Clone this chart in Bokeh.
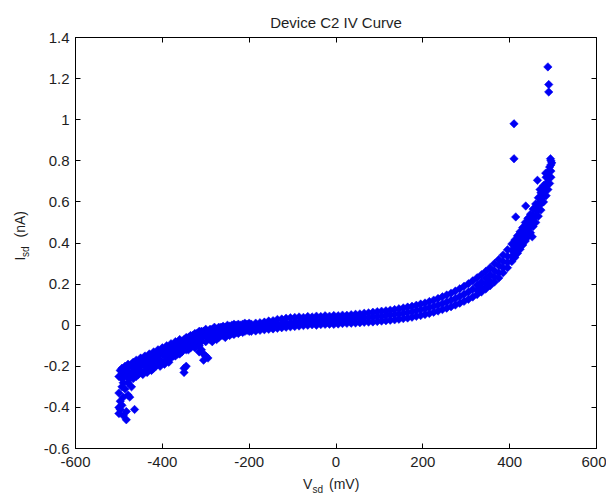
import math
from bokeh.plotting import figure
from bokeh.layouts import column, row
from bokeh.models import FixedTicker, CustomJSTickFormatter, LinearAxis, Range1d, ColumnDataSource
from bokeh.core.properties import value
from bokeh.embed import file_html
from bokeh.resources import INLINE

# ---------------- data ----------------
title_text = "Device C2 IV Curve"
x_ticks = [-600, -400, -200, 0, 200, 400, 600]
y_ticks = [-0.6, -0.4, -0.2, 0, 0.2, 0.4, 0.6, 0.8, 1.0, 1.2, 1.4]

# left (negative bias) part of the sweep: voltage columns and the currents seen at each
v_left = [-500, -497, -493, -490, -486, -483, -479, -475, -471, -467, -464, -460, -455, -450,
          -445, -440, -435, -430, -425, -420, -415, -410, -405, -400, -395, -390, -385, -380,
          -375, -370, -365, -360, -355, -350, -345, -340, -335, -330, -325, -320, -315, -310,
          -305, -300, -295, -290, -285, -280, -275, -270, -265, -260, -255, -250, -245, -240,
          -235, -230, -225, -220, -215, -210, -205, -200]
i_left = [[-0.25, -0.33, -0.40, -0.43], [-0.22, -0.37, -0.41], [-0.21, -0.26, -0.30, -0.39],
          [-0.23, -0.28, -0.35, -0.44], [-0.20, -0.24, -0.31], [-0.21, -0.25, -0.42, -0.46],
          [-0.19, -0.23, -0.28, -0.34], [-0.20, -0.26, -0.35], [-0.19, -0.24, -0.30],
          [-0.18, -0.22, -0.26], [-0.19, -0.24, -0.41], [-0.17, -0.21, -0.25],
          [-0.18, -0.22, -0.24], [-0.16, -0.20, -0.23], [-0.17, -0.19, -0.24],
          [-0.15, -0.18, -0.22], [-0.16, -0.20, -0.23], [-0.14, -0.17, -0.21],
          [-0.15, -0.19, -0.22], [-0.13, -0.17, -0.21], [-0.14, -0.16, -0.20],
          [-0.12, -0.15, -0.19], [-0.13, -0.17, -0.20], [-0.11, -0.14, -0.18],
          [-0.12, -0.15, -0.19], [-0.10, -0.13, -0.17], [-0.11, -0.14, -0.18],
          [-0.09, -0.12, -0.16], [-0.10, -0.13, -0.15], [-0.08, -0.11, -0.15],
          [-0.09, -0.12, -0.14], [-0.07, -0.10, -0.14], [-0.08, -0.11, -0.13],
          [-0.07, -0.10, -0.21, -0.23], [-0.06, -0.09, -0.12, -0.20], [-0.06, -0.08, -0.12],
          [-0.05, -0.09, -0.11], [-0.05, -0.07, -0.10], [-0.04, -0.08, -0.11],
          [-0.04, -0.06, -0.09], [-0.03, -0.07, -0.10, -0.13], [-0.03, -0.06, -0.08, -0.12],
          [-0.03, -0.05, -0.14, -0.17], [-0.02, -0.05, -0.08, -0.15], [-0.03, -0.06, -0.16],
          [-0.02, -0.04, -0.07], [-0.02, -0.05, -0.08], [-0.01, -0.04, -0.06],
          [-0.02, -0.03, -0.07], [-0.01, -0.03, -0.06], [-0.01, -0.04, -0.05],
          [-0.005, -0.03, -0.05], [-0.01, -0.02, -0.06], [0.0, -0.02, -0.04],
          [-0.005, -0.03, -0.05], [0.0, -0.02, -0.04], [0.005, -0.015, -0.045],
          [0.0, -0.02, -0.035], [0.005, -0.01, -0.04], [0.0, -0.015, -0.03],
          [0.005, -0.01, -0.035], [0.01, -0.01, -0.03], [0.005, -0.015, -0.025],
          [0.01, -0.005, -0.03]]

# middle and right (positive bias) part of the sweep
v_right = [-195, -185, -175, -165, -155, -145, -135, -125, -115, -105, -95, -85, -75, -65,
           -55, -45, -35, -25, -15, -5, 5, 15, 25, 35, 45, 55, 65, 75, 85, 95, 105, 115, 125,
           135, 145, 155, 165, 175, 185, 195, 205, 215, 225, 235, 245, 255, 265, 275, 285,
           295, 305, 315, 325, 335, 345, 355, 365, 375, 385, 395, 405, 412, 418, 424, 430,
           436, 442, 448, 454, 460, 466, 472, 478, 484, 488, 492, 495]
i_right = [[-0.03, -0.01, 0.005], [-0.028, -0.01, 0.01], [-0.025, -0.005, 0.012],
           [-0.022, -0.003, 0.015], [-0.02, 0.0, 0.02], [-0.018, 0.002, 0.022],
           [-0.015, 0.005, 0.028], [-0.012, 0.008, 0.03], [-0.01, 0.01, 0.034],
           [-0.008, 0.012, 0.036], [-0.006, 0.015, 0.038], [-0.004, 0.016, 0.04],
           [-0.002, 0.018, 0.038], [0.0, 0.02, 0.042], [0.002, 0.02, 0.04],
           [0.0, 0.022, 0.044], [0.003, 0.022, 0.042], [0.004, 0.024, 0.046],
           [0.005, 0.025, 0.044], [0.004, 0.026, 0.047], [0.006, 0.027, 0.046],
           [0.008, 0.028, 0.049], [0.009, 0.029, 0.048], [0.01, 0.031, 0.051],
           [0.011, 0.032, 0.053], [0.012, 0.034, 0.055], [0.014, 0.036, 0.058],
           [0.015, 0.038, 0.06], [0.016, 0.04, 0.063], [0.018, 0.042, 0.066],
           [0.02, 0.044, 0.068], [0.022, 0.047, 0.07], [0.024, 0.05, 0.073],
           [0.026, 0.052, 0.076], [0.029, 0.055, 0.08], [0.032, 0.058, 0.084],
           [0.035, 0.062, 0.088], [0.039, 0.066, 0.092], [0.043, 0.07, 0.097],
           [0.047, 0.075, 0.103], [0.052, 0.08, 0.108], [0.057, 0.086, 0.115],
           [0.063, 0.092, 0.122], [0.069, 0.098, 0.13], [0.076, 0.105, 0.138],
           [0.083, 0.113, 0.147], [0.09, 0.121, 0.156], [0.098, 0.13, 0.166],
           [0.107, 0.14, 0.177], [0.116, 0.151, 0.189], [0.126, 0.162, 0.202],
           [0.137, 0.175, 0.216], [0.149, 0.17, 0.195, 0.231], [0.162, 0.185, 0.21, 0.246],
           [0.176, 0.2, 0.228, 0.262], [0.192, 0.215, 0.245, 0.28], [0.21, 0.235, 0.265, 0.3],
           [0.23, 0.255, 0.29, 0.32], [0.255, 0.28, 0.31, 0.342], [0.28, 0.305, 0.335, 0.367],
           [0.31, 0.335, 0.365, 0.395], [0.33, 0.355, 0.385, 0.415], [0.35, 0.375, 0.405, 0.435],
           [0.37, 0.395, 0.425, 0.455], [0.39, 0.415, 0.445, 0.475], [0.41, 0.44, 0.47, 0.5],
           [0.43, 0.46, 0.49, 0.52], [0.45, 0.48, 0.51, 0.54], [0.48, 0.505, 0.535, 0.565],
           [0.5, 0.53, 0.56, 0.59], [0.53, 0.56, 0.59, 0.62], [0.56, 0.59, 0.62, 0.645],
           [0.6, 0.625, 0.655, 0.68], [0.63, 0.66, 0.69, 0.72], [0.66, 0.69, 0.72, 0.745],
           [0.69, 0.72, 0.75, 0.77], [0.72, 0.75, 0.78, 0.8]]

# scattered points next to the band at high bias
v_extra = [452, 414, 437, 464, 470, 483, 497, 494]
i_extra = [0.43, 0.527, 0.58, 0.705, 0.66, 0.74, 0.79, 0.81]

# isolated outliers
v_out = [410, 410, 488, 490, 490]
i_out = [0.98, 0.81, 1.257, 1.171, 1.135]


def flatten(vs, cols):
    xs, ys = [], []
    for v, col in zip(vs, cols):
        for i in col:
            xs.append(v)
            ys.append(i)
    return xs, ys


xl, yl = flatten(v_left, i_left)
xr, yr = flatten(v_right, i_right)
src = ColumnDataSource(data=dict(v=xl + xr + v_extra + v_out, i=yl + yr + i_extra + i_out))

# ---------------- layout sizes (pixels) ----------------
FONT = "Liberation Sans"
TXT = "#1e1e1e"
BLUE = "#0000F5"

TOTAL_W = 606
TITLE_H = 30
YLAB_W = 30
XLAB_H = 20
ML, MR, MT, MB = 45, 10, 7, 26
FW, FH = 521, 411
MAIN_W = ML + FW + MR          # 576
MAIN_H = MT + FH + MB          # 444

# ---------------- main plot ----------------
p = figure(width=MAIN_W, height=MAIN_H, x_range=Range1d(-600, 600), y_range=Range1d(-0.6, 1.4),
           output_backend="svg", toolbar_location=None, title=None,
           min_border_left=ML, min_border_right=MR, min_border_top=MT, min_border_bottom=MB,
           x_axis_location=None, y_axis_location=None)
p.xgrid.visible = False
p.ygrid.visible = False
p.outline_line_color = "#000000"
p.background_fill_color = "white"
p.border_fill_color = "white"

fmt_show = CustomJSTickFormatter(code="return String(Number(tick.toFixed(1)));")
fmt_hide = CustomJSTickFormatter(code="return '';")


def make_axis(ticks, show):
    ax = LinearAxis(ticker=FixedTicker(ticks=ticks), formatter=fmt_show if show else fmt_hide)
    ax.major_tick_in = 5
    ax.major_tick_out = 0
    ax.minor_tick_line_color = None
    ax.axis_line_color = "#000000"
    ax.major_tick_line_color = "#000000"
    ax.major_label_text_font = FONT
    ax.major_label_text_color = TXT
    ax.major_label_text_font_size = "15px"
    if not show:
        ax.major_label_standoff = 0
    return ax


bx = make_axis(x_ticks, True)
bx.major_label_standoff = 8
p.add_layout(bx, "below")
ly = make_axis(y_ticks, True)
ly.major_label_standoff = 6
p.add_layout(ly, "left")
p.add_layout(make_axis(x_ticks, False), "above")
p.add_layout(make_axis(y_ticks, False), "right")

p.scatter("v", "i", source=src, marker="square", size=6, angle=math.pi / 4,
          fill_color=BLUE, line_color=BLUE, line_width=0.5)


# ---------------- text strips (title, axis labels with subscripts) ----------------
def text_strip(w, h):
    f = figure(width=w, height=h, x_range=Range1d(0, w), y_range=Range1d(0, h),
               output_backend="svg", toolbar_location=None, min_border=0, title=None,
               x_axis_location=None, y_axis_location=None)
    f.xgrid.visible = False
    f.ygrid.visible = False
    f.outline_line_color = None
    f.background_fill_color = "white"
    f.border_fill_color = "white"
    return f


def put(f, x, y, txt, size, angle=0.0, align="left"):
    f.text(x=[x], y=[y], text=[txt], angle=angle, text_font=value(FONT),
           text_font_size=value(size), text_color=TXT, text_align=align,
           text_baseline="middle")


# title strip (y measured upward from the strip bottom; text centred vertically)
ft = text_strip(TOTAL_W, TITLE_H)
frame_cx = YLAB_W + ML + FW / 2
put(ft, frame_cx, 8.5, title_text, "15px", align="center")

# y label strip (rotated text, read bottom to top)
fy = text_strip(YLAB_W, MAIN_H)
put(fy, 19, 203, "I", "14px", angle=math.pi / 2)
put(fy, 24.5, 207, "sd", "10px", angle=math.pi / 2)
put(fy, 19, 228, "(nA)", "14px", angle=math.pi / 2)

# x label strip
fx = text_strip(TOTAL_W, XLAB_H)
put(fx, frame_cx - 33, 11, "V", "14px")
put(fx, frame_cx - 23.5, 5.5, "sd", "10px")
put(fx, frame_cx - 7, 11, "(mV)", "14px")

layout = column(ft, row(fy, p, spacing=0), fx, spacing=0)

open("out.html", "w").write(file_html(layout, INLINE))
